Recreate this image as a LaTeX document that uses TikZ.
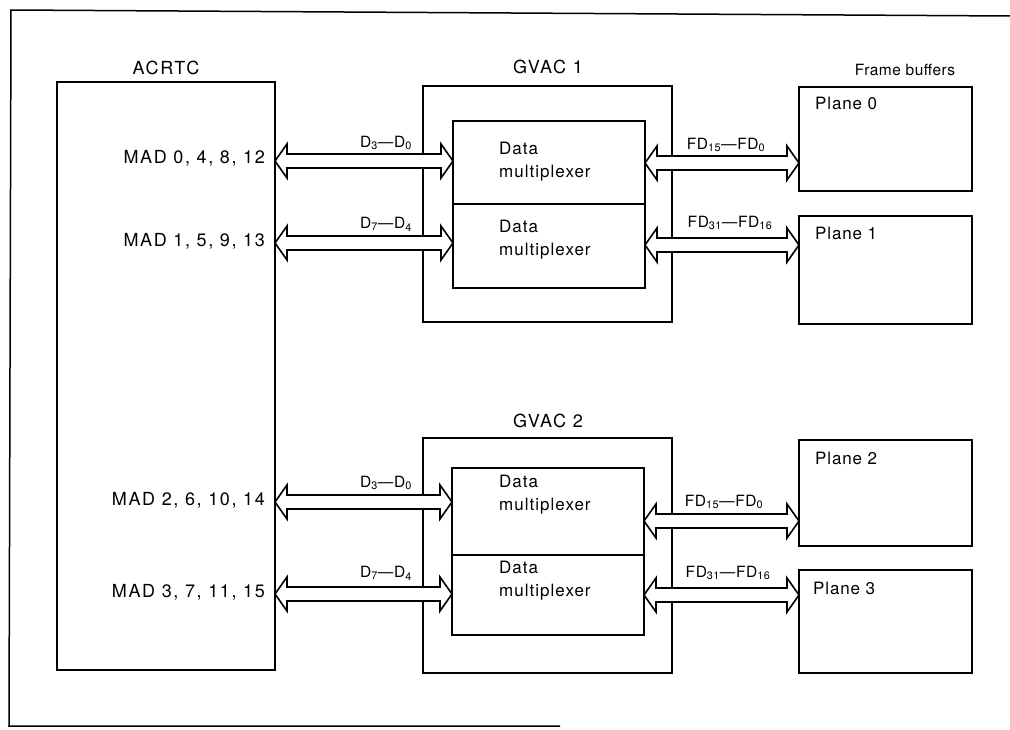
\documentclass[tikz,border=0pt]{standalone}
\usepackage{fontspec}
\setmainfont{TeX Gyre Heros}
\usetikzlibrary{calc}
\tikzset{
  box/.style={draw, line width=1.7pt, inner sep=0pt, outer sep=0pt},
  frameline/.style={line width=1.5pt},
  lbl/.style={inner sep=0pt, font=\fontsize{18}{20}\selectfont\addfontfeature{LetterSpace=9}},
  plbl/.style={inner sep=0pt, anchor=west, font=\fontsize{17}{20}\selectfont\addfontfeature{LetterSpace=5}},
  mux/.style={inner sep=0pt, align=left, anchor=west, font=\fontsize{17}{23}\selectfont\addfontfeature{LetterSpace=6}},
  sig/.style={inner sep=0pt, font=\fontsize{15.5}{17}\selectfont\addfontfeature{LetterSpace=4}},
  bus/.style={draw, fill=white, line width=1.6pt, line join=miter,
    to path={let \p1=(\tikztostart), \p2=(\tikztotarget) in
      (\x1,\y1) -- (\x1+12pt,\y1+17pt) -- (\x1+12pt,\y1+7pt) -- (\x2-12pt,\y1+7pt)
      -- (\x2-12pt,\y1+17pt) -- (\x2,\y1) -- (\x2-12pt,\y1-17pt) -- (\x2-12pt,\y1-7pt)
      -- (\x1+12pt,\y1-7pt) -- (\x1+12pt,\y1-17pt) -- cycle}}
}
\begin{document}
\begin{tikzpicture}[x=1pt,y=-1pt]
\useasboundingbox (0,0) rectangle (1010,730);
% outer frame
\draw[frameline] (1010,16) -- (11,10) -- (9,726) -- (560,726);

% boxes
\node[box, minimum width=218, minimum height=588] (acrtc) at (166,376) {};
\node[box, minimum width=249, minimum height=236] (gvac1) at (547.5,204) {};
\node[box, minimum width=192, minimum height=83] (mux1a) at (549,162.5) {};
\node[box, minimum width=192, minimum height=84] (mux1b) at (549,246) {};
\node[box, minimum width=249, minimum height=235] (gvac2) at (547.5,555.5) {};
\node[box, minimum width=192, minimum height=87] (mux2a) at (548,511.5) {};
\node[box, minimum width=192, minimum height=80] (mux2b) at (548,595) {};
\node[box, minimum width=173, minimum height=104] (plane0) at (885.5,139) {};
\node[box, minimum width=173, minimum height=108] (plane1) at (885.5,270) {};
\node[box, minimum width=173, minimum height=106] (plane2) at (885.5,493) {};
\node[box, minimum width=173, minimum height=103] (plane3) at (885.5,621.5) {};

% titles
\node[lbl] (tacrtc) at (166,68) {ACRTC};
\node[lbl] (tgvac1) at (548,67) {GVAC 1};
\node[lbl] (tgvac2) at (548,421) {GVAC 2};
\node[inner sep=0pt, font=\fontsize{15.5}{18}\selectfont\addfontfeature{LetterSpace=3}] (tframe) at (905,70) {Frame buffers};

% MAD labels
\node[lbl, anchor=east] (mad0) at (265,158) {MAD 0, 4, 8, 12};
\node[lbl, anchor=east] (mad1) at (265,241) {MAD 1, 5, 9, 13};
\node[lbl, anchor=east] (mad2) at (265,500) {MAD 2, 6, 10, 14};
\node[lbl, anchor=east] (mad3) at (265,592) {MAD 3, 7, 11, 15};

% multiplexer texts
\node[mux] (m1a) at (499,161.5) {Data\\multiplexer};
\node[mux] (m1b) at (499,240) {Data\\multiplexer};
\node[mux] (m2a) at (499,495) {Data\\multiplexer};
\node[mux] (m2b) at (499,581) {Data\\multiplexer};

% plane labels
\node[plbl] (p0) at (815,103) {Plane 0};
\node[plbl] (p1) at (815,233) {Plane 1};
\node[plbl] (p2) at (815,458) {Plane 2};
\node[plbl] (p3) at (813,588) {Plane 3};

% bus rows
\coordinate (ya1) at (0,161);
\coordinate (ya2) at (0,243);
\coordinate (ya3) at (0,502);
\coordinate (ya4) at (0,594);
\coordinate (yb1) at (0,163);
\coordinate (yb2) at (0,245);
\coordinate (yb3) at (0,521);
\coordinate (yb4) at (0,595);

\draw[bus] (acrtc.east |- ya1) to (mux1a.west |- ya1);
\draw[bus] (acrtc.east |- ya2) to (mux1b.west |- ya2);
\draw[bus] (acrtc.east |- ya3) to (mux2a.west |- ya3);
\draw[bus] (acrtc.east |- ya4) to (mux2b.west |- ya4);
\draw[bus] (mux1a.east |- yb1) to (plane0.west |- yb1);
\draw[bus] (mux1b.east |- yb2) to (plane1.west |- yb2);
\draw[bus] (mux2a.east |- yb3) to (plane2.west |- yb3);
\draw[bus] (mux2b.east |- yb4) to (plane3.west |- yb4);

% bus labels
\node[sig] (d1) at (386,143) {D\textsubscript{3}—D\textsubscript{0}};
\node[sig] (d2) at (386,224) {D\textsubscript{7}—D\textsubscript{4}};
\node[sig] (d3) at (386,483) {D\textsubscript{3}—D\textsubscript{0}};
\node[sig] (d4) at (386,573) {D\textsubscript{7}—D\textsubscript{4}};
\node[sig] (f1) at (726,145) {FD\textsubscript{15}—FD\textsubscript{0}};
\node[sig] (f2) at (730,223) {FD\textsubscript{31}—FD\textsubscript{16}};
\node[sig] (f3) at (724,502) {FD\textsubscript{15}—FD\textsubscript{0}};
\node[sig] (f4) at (728,573) {FD\textsubscript{31}—FD\textsubscript{16}};
\end{tikzpicture}
\end{document}
